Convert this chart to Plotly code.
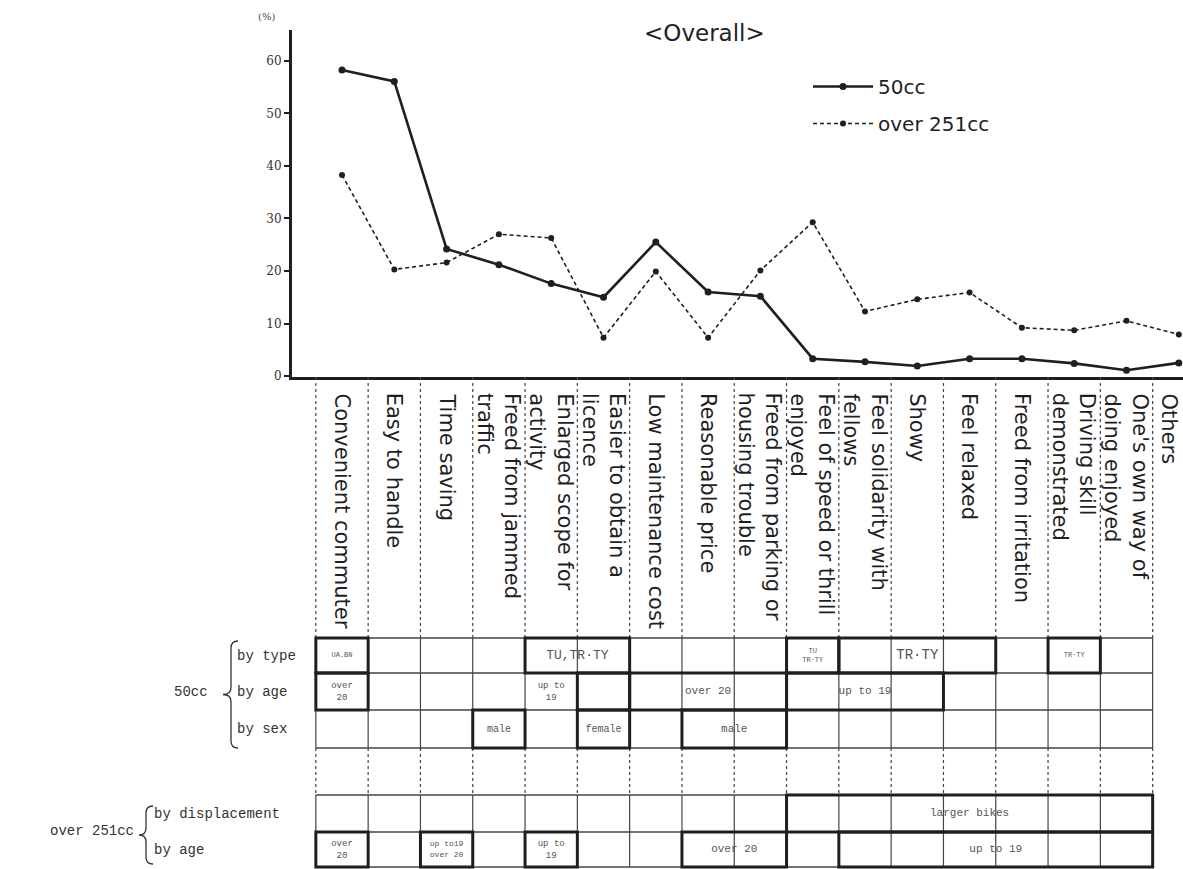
import plotly.graph_objects as go

# ---------------- data ----------------
categories = ["Convenient commuter", "Easy to handle", "Time saving",
              "Freed from jammed<br>traffic", "Enlarged scope for<br>activity",
              "Easier to obtain a<br>licence", "Low maintenance cost", "Reasonable price",
              "Freed from parking or<br>housing trouble", "Feel of speed or thrill<br>enjoyed",
              "Feel solidarity with<br>fellows", "Showy", "Feel relaxed", "Freed from irritation",
              "Driving skill<br>demonstrated", "One's own way of<br>doing enjoyed", "Others"]
cc50 = [58.3, 56.1, 24.2, 21.2, 17.6, 15.0, 25.5, 16.0, 15.2, 3.3, 2.7, 1.9, 3.3, 3.3, 2.4, 1.1, 2.5]
cc251 = [38.3, 20.3, 21.6, 27.0, 26.3, 7.3, 19.9, 7.3, 20.1, 29.3, 12.3, 14.6, 15.9, 9.2, 8.7, 10.5, 7.9]
y_ticks = [0, 10, 20, 30, 40, 50, 60]

row_names = ["by type", "by age", "by sex", "by displacement", "by age"]
# (row index, first column, last column, text, font size)
table_groups = [
    (0, 0, 0, "UA.BN", 7), (0, 4, 5, "TU,TR·TY", 13), (0, 9, 9, "TU<br>TR·TY", 7),
    (0, 10, 12, "TR·TY", 14), (0, 14, 14, "TR·TY", 7),
    (1, 0, 0, "over<br>20", 9), (1, 5, 5, "", 9), (1, 6, 8, "over 20", 11), (1, 9, 11, "up to 19", 11),
    (2, 3, 3, "male", 10), (2, 5, 5, "female", 10), (2, 7, 8, "male", 11),
    (3, 9, 15, "larger bikes", 11),
    (4, 0, 0, "over<br>20", 9), (4, 2, 2, "up to19<br>over 20", 8), (4, 4, 4, "up to<br>19", 9),
    (4, 7, 8, "over 20", 11), (4, 10, 15, "up to 19", 11),
]
plain_cells = [(1, 4, 4, "up to<br>19", 9)]

# ---------------- geometry helpers ----------------
W, H = 1183, 869
L = 292
def pxp(p):
    return (p - L) / (W - L)
def pyp(p):
    return 1 - p / H

row_edges = [(261, 296), (296, 333), (333, 371), (418, 455), (455, 490)]
ncols = 16
INK = "#1f1f1f"

fig = go.Figure()
xs = list(range(len(categories)))
fig.add_trace(go.Scatter(x=xs, y=cc50, name="50cc", mode="lines+markers", legendgroup="a",
                         line=dict(color=INK, width=2.6), marker=dict(size=7, color=INK)))
fig.add_trace(go.Scatter(x=xs, y=cc251, name="over 251cc", mode="lines+markers", legendgroup="b",
                         line=dict(color=INK, width=1.6, dash="4px,3px"),
                         marker=dict(size=6, color=INK)))

# table cell texts as a text trace on the lower axis
tx, ty, tt, ts = [], [], [], []
for r, c0, c1, t, s in table_groups + plain_cells:
    if t:
        tx.append((c0 + c1) / 2)
        ty.append(sum(row_edges[r]) / 2)
        tt.append(t)
        ts.append(s)
fig.add_trace(go.Scatter(x=tx, y=ty, text=tt, mode="text", yaxis="y2", showlegend=False,
                         hoverinfo="skip",
                         textfont=dict(family="Liberation Mono", size=ts, color="#555")))

shapes = []
# dashed column guides and solid table verticals
for k in range(ncols + 1):
    xb = k - 0.5
    for (a, b) in [(0, 261), (371, 418)]:
        shapes.append(dict(type="line", xref="x", yref="y2", x0=xb, x1=xb, y0=a, y1=b,
                           line=dict(color="#444", width=1.2, dash="3px,3px")))
    for (a, b) in [(261, 371), (418, 490)]:
        shapes.append(dict(type="line", xref="x", yref="y2", x0=xb, x1=xb, y0=a, y1=b,
                           line=dict(color="#444", width=1.2)))
# horizontal table lines
for yv in [261, 296, 333, 371, 418, 455, 490]:
    shapes.append(dict(type="line", xref="x", yref="y2", x0=-0.5, x1=ncols - 0.5, y0=yv, y1=yv,
                       line=dict(color="#444", width=1.4)))
# bold group boxes
for r, c0, c1, t, s in table_groups:
    a, b = row_edges[r]
    shapes.append(dict(type="rect", xref="x", yref="y2", x0=c0 - 0.5, x1=c1 + 0.5, y0=a, y1=b,
                       line=dict(color=INK, width=3)))

# braces
def brace(xs_, xt, xe, yt, yb):
    ym = (yt + yb) / 2
    r = 7
    pts = [("M", xe, yt), ("Q", xs_, yt, xs_, yt + r), ("L", xs_, ym - r), ("Q", xs_, ym, xt, ym),
           ("Q", xs_, ym, xs_, ym + r), ("L", xs_, yb - r), ("Q", xs_, yb, xe, yb)]
    d = ""
    for p in pts:
        coords = p[1:]
        segs = [f"{pxp(coords[i]):.5f},{pyp(coords[i+1]):.5f}" for i in range(0, len(coords), 2)]
        d += p[0] + " " + " ".join(segs) + " "
    return dict(type="path", xref="paper", yref="paper", path=d.strip(),
                line=dict(color="#333", width=1.3))
shapes.append(brace(231, 223, 238, 641, 748))
shapes.append(brace(146, 139, 153, 806, 864))

annotations = []
# category labels (rotated)
for i, c in enumerate(categories):
    last = i == len(categories) - 1
    annotations.append(dict(x=1 if last else i, xref="paper" if last else "x",
                            y=14, yref="y2", text=c, showarrow=False,
                            textangle=90, xanchor="right" if last else "center",
                            yanchor="top", align="left",
                            font=dict(family="DejaVu Sans", size=21, color=INK)))
# row labels
lab_font = dict(family="Liberation Mono", size=14, color="#333")
for k, name in enumerate(row_names):
    a, b = row_edges[k]
    xl = 235 if k < 3 else 152
    annotations.append(dict(x=pxp(xl), y=(a + b) / 2, xref="paper", yref="y2", text=name,
                            showarrow=False, xanchor="left", yanchor="middle", font=lab_font))
annotations.append(dict(x=pxp(210), y=pyp(692), xref="paper", yref="paper", text="50cc",
                        showarrow=False, xanchor="right", yanchor="middle", font=lab_font))
annotations.append(dict(x=pxp(136), y=pyp(831), xref="paper", yref="paper", text="over 251cc",
                        showarrow=False, xanchor="right", yanchor="middle", font=lab_font))
# title and unit
annotations.append(dict(x=pxp(704), y=pyp(33), xref="paper", yref="paper", text="&lt;Overall&gt;",
                        showarrow=False, xanchor="center", yanchor="middle",
                        font=dict(family="DejaVu Sans", size=23, color=INK)))
annotations.append(dict(x=pxp(266), y=pyp(17), xref="paper", yref="paper", text="(%)",
                        showarrow=False, xanchor="center", yanchor="middle",
                        font=dict(family="DejaVu Serif", size=10, color="#444")))

fig.update_layout(
    width=W, height=H, margin=dict(l=L, r=0, t=0, b=0),
    paper_bgcolor="white", plot_bgcolor="white",
    showlegend=True,
    legend=dict(x=pxp(808), y=pyp(67), xanchor="left", yanchor="top",
                font=dict(family="DejaVu Sans", size=20, color=INK),
                bgcolor="rgba(0,0,0,0)", tracegroupgap=8, itemwidth=60),
    xaxis=dict(range=[(L - 342) / 52.3, (W - 342) / 52.3], showgrid=False, zeroline=False,
               showline=True, linecolor=INK, linewidth=2.5, showticklabels=False, ticks="",
               anchor="y", fixedrange=True),
    yaxis=dict(domain=[pyp(377), pyp(30)], range=[-0.19, 65.9], showgrid=False, zeroline=False,
               showline=True, linecolor=INK, linewidth=3, tickvals=y_ticks, ticks="outside",
               ticklen=5, tickwidth=1.5, tickcolor=INK, automargin=False,
               tickfont=dict(family="DejaVu Serif", size=12, color="#333"), anchor="x"),
    yaxis2=dict(domain=[0, pyp(377)], range=[492, 0], visible=False, anchor="x"),
    shapes=shapes, annotations=annotations,
)

fig.write_html("out.html", config={"displayModeBar": False},
               post_script="document.body.style.margin='0';document.body.style.overflow='hidden';")
